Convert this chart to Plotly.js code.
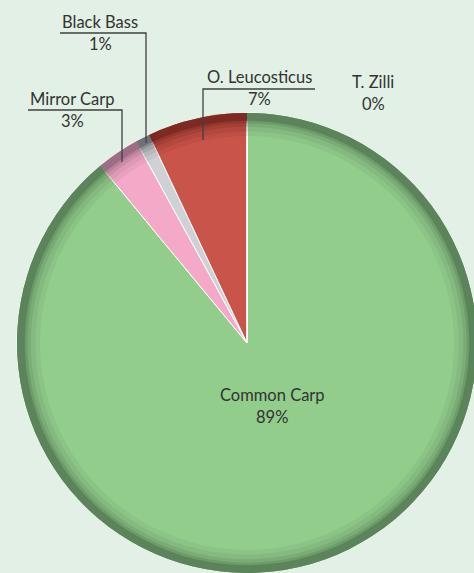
<!DOCTYPE html>
<html><head><meta charset="utf-8">
<script src="https://cdn.plot.ly/plotly-3.0.1.min.js"></script>
<style>html,body{margin:0;padding:0;overflow:hidden;background:#e2f0e5;}#chart{width:490px;height:573px;}</style>
</head><body><div id="chart"></div>
<script>
const categories = ["Common Carp", "Mirror Carp", "Black Bass", "O. Leucosticus", "T. Zilli"];
const values = [89, 3, 1, 7, 0];
const fillColors = ["#92cd8c", "#f4a9c9", "#cfd2d5", "#c9544a", "#8aa0c8"];
const rimColors = ["#5b845a", "#9c6d84", "#6f7275", "#7c2a22", "#4d5f80"];

const W = 490, H = 573;
const px = x => x / W, py = y => 1 - y / H;
const total = values.reduce((a, b) => a + b, 0);
const pct = values.map(v => Math.round(v / total * 100) + "%");

const dom = {x: [px(17), px(477)], y: [0, 460 / H]};
function ring(hole, colors, alpha, lw) {
  return {
    type: "pie", values: values, labels: categories, sort: false, direction: "clockwise",
    rotation: 0, hole: hole, domain: dom, textinfo: "none", hoverinfo: "skip",
    opacity: alpha,
    marker: {colors: colors, line: {color: "#ffffff", width: lw}}, showlegend: false
  };
}
const traces = [
  ring(0, fillColors, 1, 1),
  ring(0.90, rimColors, 0.12, 0),
  ring(0.92, rimColors, 0.15, 0),
  ring(0.94, rimColors, 0.25, 0),
  ring(0.955, rimColors, 0.4, 0),
  ring(0.966, rimColors, 1, 0)
];

// label positions (pixel) per category
const labelPos = [
  {x: 272, y: 395}, {x: 72, y: 99}, {x: 100, y: 22}, {x: 259, y: 77}, {x: 373, y: 82}
];
const font = {family: "Lato, 'Open Sans', sans-serif", size: 16.5, color: "#333333"};
const annotations = [];
categories.forEach((c, i) => {
  annotations.push({xref: "paper", yref: "paper", x: px(labelPos[i].x), y: py(labelPos[i].y),
    text: c, showarrow: false, font: font, xanchor: "center", yanchor: "middle"});
  annotations.push({xref: "paper", yref: "paper", x: px(labelPos[i].x), y: py(labelPos[i].y + 22),
    text: pct[i], showarrow: false, font: font, xanchor: "center", yanchor: "middle"});
});
const lineStyle = {color: "#404040", width: 1.3};
const leader = pts => ({type: "path", xref: "paper", yref: "paper",
  path: "M" + pts.map(p => px(p[0]) + "," + py(p[1])).join(" L"), line: lineStyle});
const shapes = [
  leader([[60, 33], [146, 33], [146, 143]]),
  leader([[28, 110], [122, 110], [122, 162]]),
  leader([[315, 89], [203, 89], [203, 140]])
];

Plotly.newPlot("chart", traces, {
  width: W, height: H, margin: {l: 0, r: 0, t: 0, b: 0},
  paper_bgcolor: "#e2f0e5", plot_bgcolor: "#e2f0e5",
  annotations: annotations, shapes: shapes, showlegend: false
}, {staticPlot: true});
</script></body></html>
